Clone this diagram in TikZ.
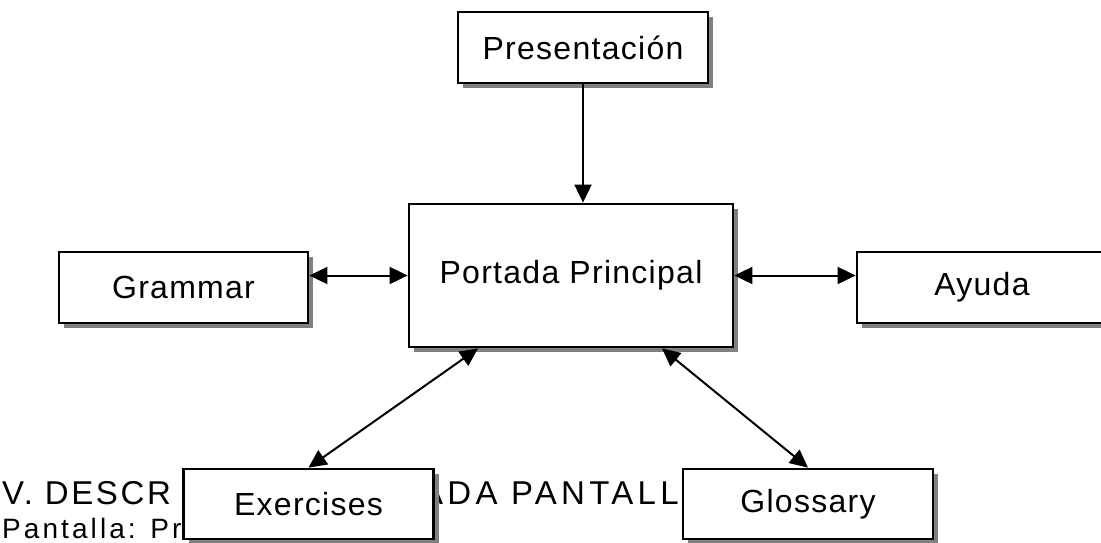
\documentclass[tikz,border=0pt]{standalone}
\usepackage{fontspec}
\setmainfont{Liberation Sans}[LetterSpace=4]
\newfontfamily\anchofont{Liberation Sans}[LetterSpace=8]
\newfontfamily\masanchofont{Liberation Sans}[LetterSpace=11]
\newfontfamily\titbfont{Liberation Sans}[LetterSpace=13]
\usetikzlibrary{arrows.meta,shadows}

\begin{document}
\begin{tikzpicture}[x=1pt,y=-1pt,
        pantalla/.style={draw, rectangle, line width=2.8pt, fill=white, inner sep=0pt,
            minimum width=250pt, minimum height=71pt, font=\fontsize{32}{38}\selectfont,
            drop shadow={shadow xshift=5pt, shadow yshift=-5pt, fill=gray, opacity=1}},
        punta/.tip={Triangle[length=18pt,width=17pt]},
        flecha/.style={line width=2pt, punta-punta},
        fondo/.style={inner sep=0pt, anchor=base west}]
        \useasboundingbox (0,0) rectangle (1101,542);

        % Page text behind the diagram
        \node[fondo, font=\anchofont\fontsize{33}{40}\selectfont] (tit) at (2,504) {V. DESCR};
        \node[fondo, font=\titbfont\fontsize{33}{40}\selectfont] (titb) at (421,504) {ADA PANTALL};
        \node[fondo, font=\masanchofont\fontsize{28}{34}\selectfont] (sub) at (2,538) {Pantalla: Pr};

        % Screens
        \node[pantalla] (pres) at (583,47.5) {Presentación};
        \node[pantalla, minimum width=324pt, minimum height=143pt] (port) at (571,275.5) {Portada Principal};
        \node[pantalla, minimum width=249pt] (gram) at (183.5,287.5) {Grammar};
        \node[pantalla] (ayuda) at (982,287.5) {Ayuda};
        \node[pantalla, minimum height=70pt] (exer) at (308.5,504) {Exercises};
        \node[pantalla, minimum height=70pt] (glos) at (808,504) {Glossary};

        % Links between screens
        \draw[line width=2pt, -punta] (pres.south) -- (pres.south |- port.north);
        \draw[flecha] (port.west -| gram.east) -- (port.west);
        \draw[flecha] (port.east) -- (port.east -| ayuda.west);
        \draw[flecha] ([xshift=-93pt]port.south) -- (exer.north);
        \draw[flecha] ([xshift=91pt]port.south) -- (glos.north);
    \end{tikzpicture}
\end{document}
